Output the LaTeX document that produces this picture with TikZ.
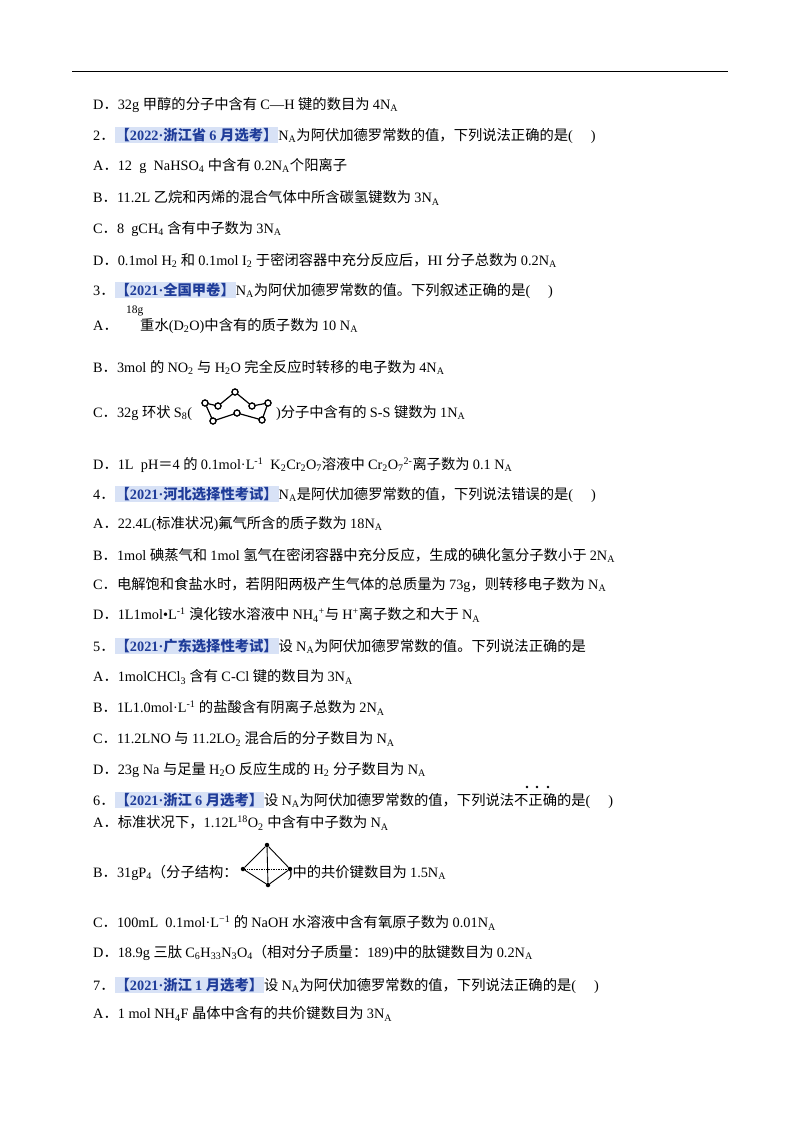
\documentclass[tikz,border=0pt]{standalone}
\usepackage{fontspec}
\setmainfont{Liberation Serif}
\newfontfamily\cjk{Noto Sans CJK SC}
\newXeTeXintercharclass\cjkclass
\newcount\cc
\cc="3000 \loop \XeTeXcharclass\cc=\cjkclass \advance\cc 1 \ifnum\cc<"3040 \repeat
\cc="4E00 \loop \XeTeXcharclass\cc=\cjkclass \advance\cc 1 \ifnum\cc<"A000 \repeat
\cc="FF00 \loop \XeTeXcharclass\cc=\cjkclass \advance\cc 1 \ifnum\cc<"FFF0 \repeat
\XeTeXinterchartoks 0 \cjkclass={\cjk}
\XeTeXinterchartoks 4095 \cjkclass={\cjk}
\XeTeXinterchartoks \cjkclass 0={\rmfamily}
\XeTeXinterchartoks 4095 0={\rmfamily}
\XeTeXinterchartokenstate=1
\definecolor{hlb}{HTML}{D8E2F6}
\definecolor{hlt}{HTML}{1F3C99}
\newcommand\NA{N\textsubscript{A}}
\newcommand\tag[1]{{\setlength\fboxsep{1pt}\colorbox{hlb}{\bfseries\color{hlt}#1}}}
\begin{document}
\begin{tikzpicture}[x=1pt,y=-1pt,
  ln/.style={anchor=west,inner sep=0pt,font=\fontsize{14.3}{17}\selectfont},
  atom/.style={circle,draw,line width=1.2pt,fill=white,inner sep=0pt,minimum size=6pt},
  dot/.style={circle,fill,inner sep=0pt,minimum size=4.5pt}]
\useasboundingbox (0,0) rectangle (800,1132);
\draw[line width=1pt] (72,72) coordinate (r1) -- (728,72) coordinate (r2);
\node[ln] (l1) at (93,105) {D．32g 甲醇的分子中含有 C—H 键的数目为 4\NA};
\node[ln] (l2) at (93,135) {2．\tag{【2022·浙江省 6 月选考】}\NA 为阿伏加德罗常数的值，下列说法正确的是(\quad\ )};
\node[ln] (l3) at (93,166) {A．12\ \ g\ \ NaHSO\textsubscript{4} 中含有 0.2\NA 个阳离子};
\node[ln] (l4) at (93,198) {B．11.2L 乙烷和丙烯的混合气体中所含碳氢键数为 3\NA};
\node[ln] (l5) at (93,229) {C．8\ \ gCH\textsubscript{4} 含有中子数为 3\NA};
\node[ln] (l6) at (93,260) {D．0.1mol H\textsubscript{2} 和 0.1mol I\textsubscript{2} 于密闭容器中充分反应后，HI 分子总数为 0.2\NA};
\node[ln] (l7) at (93,290) {3．\tag{【2021·全国甲卷】}\NA 为阿伏加德罗常数的值。下列叙述正确的是(\quad\ )};
\node[ln] (l8) at (93,326) {A．};
\node[ln,font=\fontsize{11.5}{13}\selectfont] (l8s) at (126,311) {18g};
\node[ln] (l8b) at (140,326) {重水(D\textsubscript{2}O)中含有的质子数为 10 \NA};
\node[ln] (l9) at (93,367) {B．3mol 的 NO\textsubscript{2} 与 H\textsubscript{2}O 完全反应时转移的电子数为 4\NA};
\node[ln] (l10) at (93,413) {C．32g 环状 S\textsubscript{8}(\hspace{84pt})分子中含有的 S-S 键数为 1\NA};
\draw[line width=1.2pt] (205,403) node[atom](s1){} -- (218,406) node[atom](s2){} -- (235,392) node[atom](s3){} -- (252,406) node[atom](s4){} -- (268,403) node[atom](s5){} -- (262,420) node[atom](s6){} -- (237,413) node[atom](s7){} -- (213,421) node[atom](s8){} -- (s1);
\foreach \i in {1,...,8} \node[atom] at (s\i) {};
\node[ln] (l11) at (93,465) {D．1L\ \ pH＝4 的 0.1mol·L\textsuperscript{-1}\ \ K\textsubscript{2}Cr\textsubscript{2}O\textsubscript{7}溶液中 Cr\textsubscript{2}O\textsubscript{7}\textsuperscript{2-}离子数为 0.1 \NA};
\node[ln] (l12) at (93,494) {4．\tag{【2021·河北选择性考试】}\NA 是阿伏加德罗常数的值，下列说法错误的是(\quad\ )};
\node[ln] (l13) at (93,524) {A．22.4L(标准状况)氟气所含的质子数为 18\NA};
\node[ln] (l14) at (93,555) {B．1mol 碘蒸气和 1mol 氢气在密闭容器中充分反应，生成的碘化氢分子数小于 2\NA};
\node[ln] (l15) at (93,585) {C．电解饱和食盐水时，若阴阳两极产生气体的总质量为 73g，则转移电子数为 \NA};
\node[ln] (l16) at (93,615) {D．1L1mol•L\textsuperscript{-1} 溴化铵水溶液中 NH\textsubscript{4}\textsuperscript{+}与 H\textsuperscript{+}离子数之和大于 \NA};
\node[ln] (l17) at (93,646) {5．\tag{【2021·广东选择性考试】}设 \NA 为阿伏加德罗常数的值。下列说法正确的是};
\node[ln] (l18) at (93,677) {A．1molCHCl\textsubscript{3} 含有 C-Cl 键的数目为 3\NA};
\node[ln] (l19) at (93,708) {B．1L1.0mol·L\textsuperscript{-1} 的盐酸含有阴离子总数为 2\NA};
\node[ln] (l20) at (93,739) {C．11.2LNO 与 11.2LO\textsubscript{2} 混合后的分子数目为 \NA};
\node[ln] (l21) at (93,770) {D．23g Na 与足量 H\textsubscript{2}O 反应生成的 H\textsubscript{2} 分子数目为 \NA};
\node[ln] (l22) at (93,800) {6．\tag{【2021·浙江 6 月选考】}设 \NA 为阿伏加德罗常数的值，下列说法不正确的是(\quad\ )};
\foreach \x in {527,537,548} \fill (\x,787) circle (1.4);
\node[ln] (l23) at (93,823) {A．标准状况下，1.12L\textsuperscript{18}O\textsubscript{2} 中含有中子数为 \NA};
\node[ln] (l24) at (93,873) {B．31gP\textsubscript{4}（分子结构：\hspace{50pt})中的共价键数目为 1.5\NA};
\node[dot] (pt) at (267,845) {};
\node[dot] (pl) at (243,869) {};
\node[dot] (pr) at (290,869) {};
\node[dot] (pb) at (268,885) {};
\draw[line width=0.9pt] (pt) -- (pl) -- (pb) -- (pr) -- (pt) -- (pb);
\draw[line width=0.7pt,densely dotted] (pl) -- (pr);
\node[ln] (l25) at (93,923) {C．100mL\ \ 0.1mol·L\textsuperscript{−1} 的 NaOH 水溶液中含有氧原子数为 0.01\NA};
\node[ln] (l26) at (93,953) {D．18.9g 三肽 C\textsubscript{6}H\textsubscript{33}N\textsubscript{3}O\textsubscript{4}（相对分子质量：189)中的肽键数目为 0.2\NA};
\node[ln] (l27) at (93,985) {7．\tag{【2021·浙江 1 月选考】}设 \NA 为阿伏加德罗常数的值，下列说法正确的是(\quad\ )};
\node[ln] (l28) at (93,1014) {A．1 mol NH\textsubscript{4}F 晶体中含有的共价键数目为 3\NA};
\end{tikzpicture}
\end{document}
